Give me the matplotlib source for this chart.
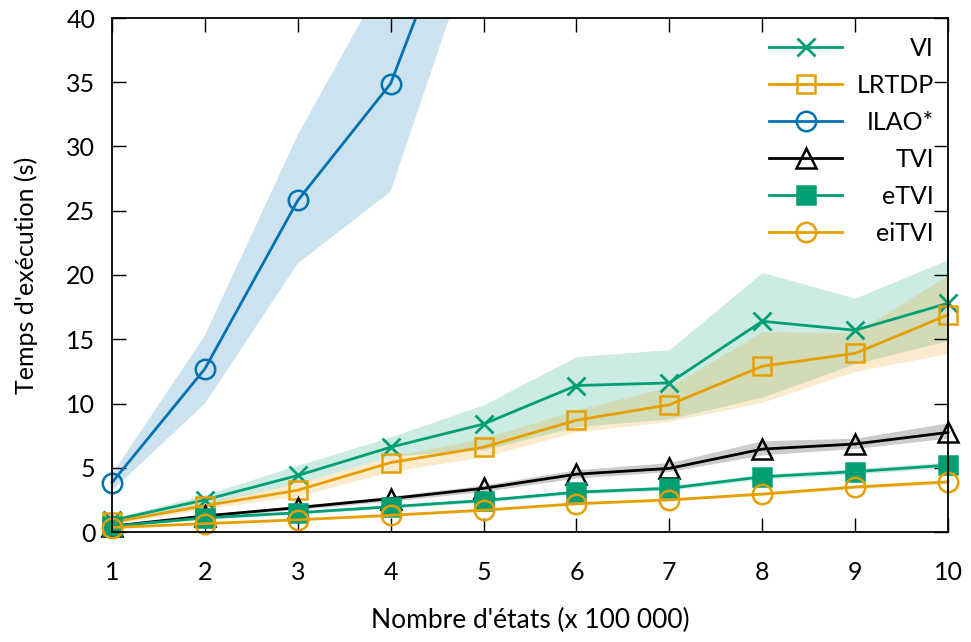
import numpy as np
import matplotlib
matplotlib.use("Agg")
import matplotlib.pyplot as plt
from matplotlib.patches import Rectangle

plt.rcParams['font.family'] = ['Lato', 'DejaVu Sans']
plt.rcParams['font.size'] = 18

# Number of states (x 100 000)
n_states = [1, 2, 3, 4, 5, 6, 7, 8, 9, 10]

# Mean run time (s) and min / max envelope for each solver
vi_mean = [0.9, 2.5, 4.4, 6.6, 8.4, 11.4, 11.6, 16.4, 15.7, 17.8]
vi_low = [0.75, 2.2, 3.8, 5.9, 6.4, 8.2, 8.8, 10.5, 13.1, 14.9]
vi_high = [1.05, 2.9, 5.2, 7.4, 9.9, 13.65, 14.2, 20.2, 18.2, 21.2]

lrtdp_mean = [0.75, 2.05, 3.25, 5.4, 6.6, 8.7, 9.9, 12.9, 13.9, 16.9]
lrtdp_low = [0.6, 1.8, 2.8, 4.7, 5.85, 7.8, 8.6, 10.1, 12.5, 13.9]
lrtdp_high = [0.9, 2.3, 3.8, 5.9, 7.3, 9.5, 11.3, 15.6, 15.5, 20.0]

ilao_states = [1, 2, 3, 4, 5]
ilao_mean = [3.85, 12.7, 25.8, 34.9, 53.8]
ilao_low = [3.2, 10.0, 20.9, 26.5, 47.9]
ilao_high = [4.5, 15.3, 30.9, 43.9, 62.0]

tvi_mean = [0.45, 1.25, 1.9, 2.6, 3.4, 4.5, 4.95, 6.45, 6.85, 7.75]
tvi_low = [0.4, 1.15, 1.75, 2.4, 3.15, 4.2, 4.7, 6.0, 6.5, 7.3]
tvi_high = [0.5, 1.35, 2.05, 2.8, 3.65, 4.85, 5.4, 7.1, 7.3, 8.5]

etvi_mean = [0.45, 1.1, 1.5, 1.97, 2.45, 3.1, 3.4, 4.3, 4.7, 5.2]
etvi_low = [0.4, 1.0, 1.4, 1.85, 2.3, 2.95, 3.25, 4.1, 4.5, 5.0]
etvi_high = [0.5, 1.2, 1.6, 2.1, 2.6, 3.25, 3.6, 4.5, 4.95, 5.45]

eitvi_mean = [0.35, 0.65, 0.95, 1.3, 1.7, 2.2, 2.5, 2.95, 3.5, 3.9]
eitvi_low = [0.3, 0.6, 0.9, 1.2, 1.6, 2.1, 2.4, 2.85, 3.35, 3.75]
eitvi_high = [0.4, 0.72, 1.02, 1.4, 1.8, 2.3, 2.6, 3.1, 3.65, 4.05]

green = '#009e73'
orange = '#e69f00'
blue = '#0072b2'

series = [
    ('VI', n_states, vi_mean, vi_low, vi_high, green, dict(marker='x', markersize=13, markeredgewidth=2)),
    ('LRTDP', n_states, lrtdp_mean, lrtdp_low, lrtdp_high, orange, dict(marker='s', markersize=13, markerfacecolor='none')),
    ('ILAO*', ilao_states, ilao_mean, ilao_low, ilao_high, blue, dict(marker='o', markersize=14, markerfacecolor='none')),
    ('TVI', n_states, tvi_mean, tvi_low, tvi_high, 'black', dict(marker='^', markersize=14, markerfacecolor='none')),
    ('eTVI', n_states, etvi_mean, etvi_low, etvi_high, green, dict(marker='s', markersize=13)),
    ('eiTVI', n_states, eitvi_mean, eitvi_low, eitvi_high, orange, dict(marker='o', markersize=14, markerfacecolor='none')),
]

fig = plt.figure(figsize=(9.71, 6.42), dpi=100)
ax = fig.add_axes([112 / 971, 110 / 642, 836 / 971, 514 / 642])

# shaded min/max envelopes first, then the mean curves on top
for name, xs, mean, low, high, color, style in series:
    ax.fill_between(xs, low, high, color=color, alpha=0.2, linewidth=0)

# let markers spill over the left/right frame, but cut at the top
clip_box = Rectangle((-0.05, -0.1), 1.1, 1.1, transform=ax.transAxes)
for name, xs, mean, low, high, color, style in series:
    line, = ax.plot(xs, mean, color=color, linewidth=2, markeredgewidth=style.pop('markeredgewidth', 1.8),
                    label=name, **style)
    line.set_clip_path(clip_box)

ax.set_xlim(1, 10)
ax.set_ylim(0, 40)
ax.set_xticks(range(1, 11))
ax.set_yticks(range(0, 41, 5))
ax.tick_params(direction='in', length=10, width=1, top=True, right=True, labelsize=18)
ax.tick_params(axis='x', pad=21)
ax.tick_params(axis='y', pad=12)
for spine in ax.spines.values():
    spine.set_linewidth(1.3)

ax.set_xlabel("Nombre d'états (x 100 000)", fontsize=19, labelpad=17)
ax.set_ylabel("Temps d'exécution (s)", fontsize=18, labelpad=20)

leg = ax.legend(loc='upper right', bbox_to_anchor=(934 / 971, 1 - 37 / 642), bbox_transform=fig.transFigure,
                frameon=False, borderpad=0, borderaxespad=0, handlelength=2.9, handletextpad=0.6,
                labelspacing=0.56, fontsize=18)

# right-align the legend labels
fig.canvas.draw()
renderer = fig.canvas.get_renderer()
widths = [t.get_window_extent(renderer).width for t in leg.get_texts()]
wmax = max(widths)
for t, w in zip(leg.get_texts(), widths):
    t.set_position((wmax - w, 0))

fig.savefig('out.png', dpi=100)
